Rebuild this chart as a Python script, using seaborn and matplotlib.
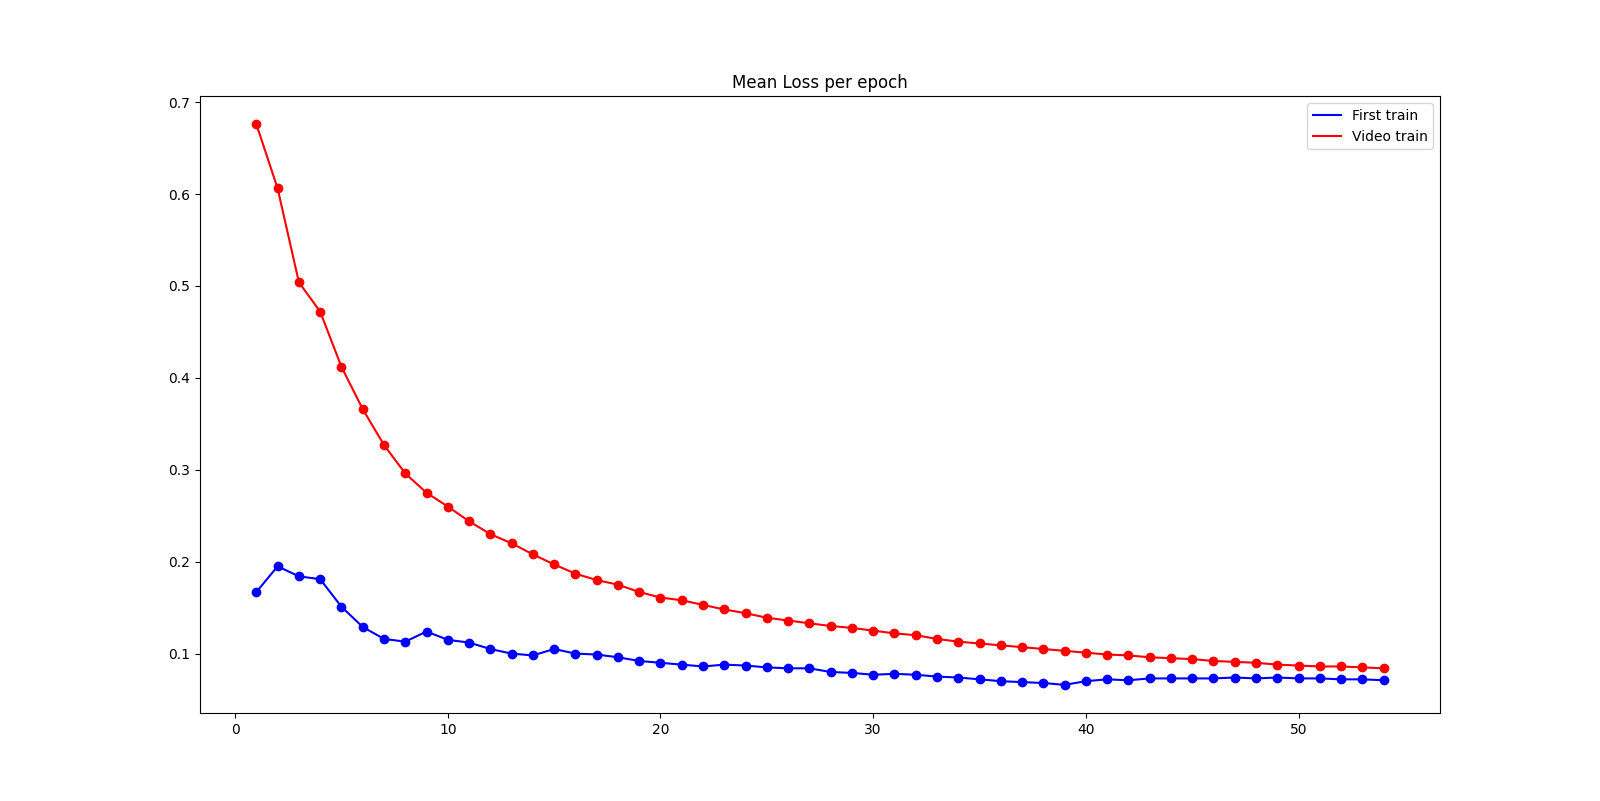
import matplotlib
matplotlib.use("Agg")
import matplotlib.pyplot as plt
import seaborn as sns
import numpy as np

epochs = list(range(1, 55))

first_train = [
    0.167, 0.195, 0.184, 0.181, 0.151, 0.129, 0.116, 0.113, 0.124, 0.115,
    0.112, 0.105, 0.100, 0.098, 0.105, 0.100, 0.099, 0.096, 0.092, 0.090,
    0.088, 0.086, 0.088, 0.087, 0.085, 0.084, 0.084, 0.080, 0.079, 0.077,
    0.078, 0.077, 0.075, 0.074, 0.072, 0.070, 0.069, 0.068, 0.066, 0.070,
    0.072, 0.071, 0.073, 0.073, 0.073, 0.073, 0.074, 0.073, 0.074, 0.073,
    0.073, 0.072, 0.072, 0.071,
]

video_train = [
    0.676, 0.606, 0.504, 0.472, 0.412, 0.366, 0.327, 0.296, 0.275, 0.260,
    0.244, 0.230, 0.220, 0.208, 0.197, 0.187, 0.180, 0.175, 0.167, 0.161,
    0.158, 0.153, 0.148, 0.144, 0.139, 0.136, 0.133, 0.130, 0.128, 0.125,
    0.122, 0.120, 0.116, 0.113, 0.111, 0.109, 0.107, 0.105, 0.103, 0.101,
    0.099, 0.098, 0.096, 0.095, 0.094, 0.092, 0.091, 0.090, 0.088, 0.087,
    0.086, 0.086, 0.085, 0.084,
]

fig, ax = plt.subplots(figsize=(16, 8.01), dpi=100)

sns.lineplot(x=epochs, y=first_train, color="blue", label="First train", ax=ax, linewidth=1.5)
sns.lineplot(x=epochs, y=video_train, color="red", label="Video train", ax=ax, linewidth=1.5)
sns.scatterplot(x=epochs, y=first_train, color="blue", s=36, edgecolor="blue",
                linewidth=1, ax=ax, legend=False, zorder=3)
sns.scatterplot(x=epochs, y=video_train, color="red", s=36, edgecolor="red",
                linewidth=1, ax=ax, legend=False, zorder=3)

ax.set_title("Mean Loss per epoch")
ax.legend(loc="upper right")
ax.set_xticks([0, 10, 20, 30, 40, 50])

fig.savefig("out.png", dpi=100)
